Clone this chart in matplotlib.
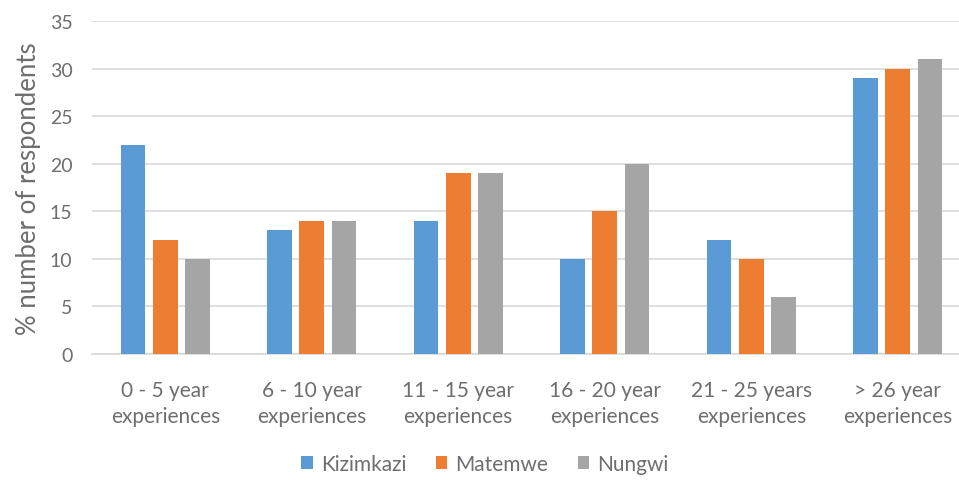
import numpy as np
import matplotlib.pyplot as plt

categories = ["0 - 5 year\nexperiences", "6 - 10 year\nexperiences", "11 - 15 year\nexperiences",
              "16 - 20 year\nexperiences", "21 - 25 years\nexperiences", "> 26 year\nexperiences"]
kizimkazi = [22, 13, 14, 10, 12, 29]
matemwe = [12, 14, 19, 15, 10, 30]
nungwi = [10, 14, 19, 20, 6, 31]

plt.rcParams['font.family'] = ['Lato', 'DejaVu Sans']
grey_text = "#6E6E6E"

fig = plt.figure(figsize=(9.59, 4.81), dpi=100)
ax = fig.add_axes([92 / 959, 1 - 355 / 481, (971 - 92) / 959, (355 - 22) / 481])

x = np.arange(len(categories))
w = 0.17
off = 0.22
ax.bar(x - off, kizimkazi, w, color="#5B9BD5", label="Kizimkazi", zorder=3)
ax.bar(x, matemwe, w, color="#ED7D31", label="Matemwe", zorder=3)
ax.bar(x + off, nungwi, w, color="#A5A5A5", label="Nungwi", zorder=3)

ax.set_xlim(-0.5, len(categories) - 0.5)
ax.set_ylim(0, 35)
ax.set_yticks(range(0, 36, 5))
ax.grid(axis="y", color="#D9D9D9", linewidth=1.2, zorder=0)
for s in ["top", "right", "left"]:
    ax.spines[s].set_visible(False)
ax.spines["bottom"].set_color("#D9D9D9")
ax.spines["bottom"].set_linewidth(1.2)

ax.set_xticks(x)
ax.set_xticklabels(categories, fontsize=15, color=grey_text, linespacing=1.38)
ax.tick_params(axis="both", length=0, colors=grey_text)
ax.tick_params(axis="x", pad=19, labelsize=15)
ax.tick_params(axis="y", pad=14, labelsize=14)
ax.set_ylabel("% number of respondents", fontsize=18.5, color=grey_text, labelpad=6)

fig.legend(loc="center", bbox_to_anchor=(485 / 959, 1 - 465 / 481), ncol=3, frameon=False,
           fontsize=15, labelcolor=grey_text, handlelength=0.55, handleheight=0.55,
           handletextpad=0.4, columnspacing=1.4)

fig.savefig("out.png", dpi=100)
